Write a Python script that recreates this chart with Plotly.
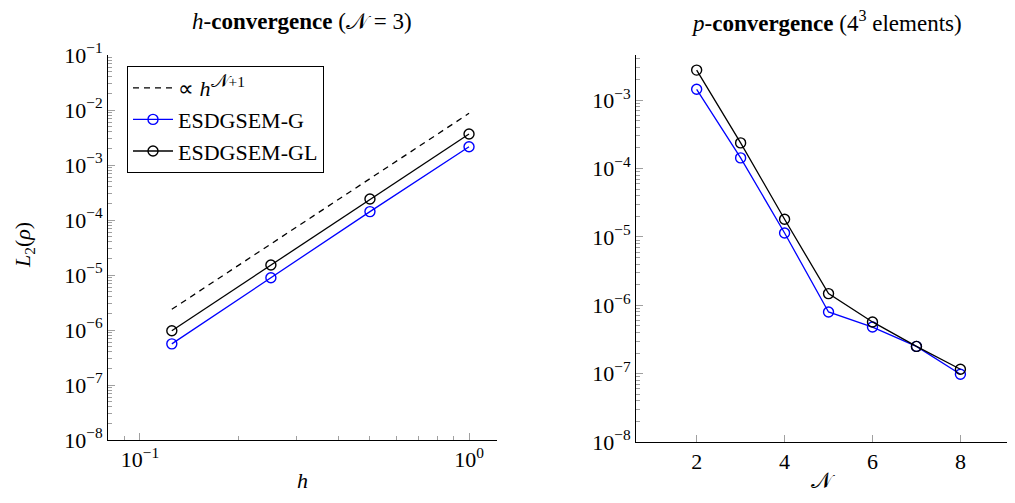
import plotly.graph_objects as go

# ---- data ----
h_vals = [0.125, 0.25, 0.5, 1.0]
h_G = [5.6e-7, 8.9e-6, 1.42e-4, 2.15e-3]
h_GL = [9.7e-7, 1.52e-5, 2.41e-4, 3.67e-3]
h_ref_x = [0.125, 1.0]
h_ref_y = [2.38e-6, 8.7e-3]

N_vals = [2, 3, 4, 5, 6, 7, 8]
p_G = [1.44e-3, 1.43e-4, 1.14e-5, 7.98e-7, 4.8e-7, 2.5e-7, 9.8e-8]
p_GL = [2.75e-3, 2.37e-4, 1.81e-5, 1.48e-6, 5.7e-7, 2.5e-7, 1.16e-7]

y_ticks = [1e-8, 1e-7, 1e-6, 1e-5, 1e-4, 1e-3, 1e-2, 1e-1]
y_ticktext = ["10<sup>\u2212%d</sup>" % k for k in [8, 7, 6, 5, 4, 3, 2, 1]]
x_ticks = [0.1, 1.0]
x_ticktext = ["10<sup>\u22121</sup>", "10<sup>0</sup>"]
n_ticks = [2, 4, 6, 8]

FONT = "Liberation Serif"
FS = 22
OFF = 8  # page body margin
W, H = 1015 - 2 * OFF, 503 - 2 * OFF
CALN = "\U0001D4A9"


def px(x):
    return min(1.0, max(0.0, (x - OFF) / W))


def py(y):
    return min(1.0, max(0.0, 1 - (y - OFF) / H))


fig = go.Figure()

BLUE = "#0000ff"
BLACK = "#000000"
mk = dict(symbol="circle-open", size=10, line=dict(width=1.4))

fig.add_trace(go.Scatter(x=h_ref_x, y=h_ref_y, mode="lines",
                         line=dict(color=BLACK, width=1.3, dash="6px,5px"),
                         name="\u221d <i>h</i><sup><span style='font-size:19px'>" + CALN + "</span>+1</sup>",
                         xaxis="x", yaxis="y"))
fig.add_trace(go.Scatter(x=h_vals, y=h_G, mode="lines+markers",
                         line=dict(color=BLUE, width=1.3),
                         marker=dict(color=BLUE, **mk),
                         name="ESDGSEM-G", xaxis="x", yaxis="y"))
fig.add_trace(go.Scatter(x=h_vals, y=h_GL, mode="lines+markers",
                         line=dict(color=BLACK, width=1.3),
                         marker=dict(color=BLACK, **mk),
                         name="ESDGSEM-GL", xaxis="x", yaxis="y"))

fig.add_trace(go.Scatter(x=N_vals, y=p_G, mode="lines+markers",
                         line=dict(color=BLUE, width=1.3),
                         marker=dict(color=BLUE, **mk),
                         showlegend=False, xaxis="x2", yaxis="y2"))
fig.add_trace(go.Scatter(x=N_vals, y=p_GL, mode="lines+markers",
                         line=dict(color=BLACK, width=1.3),
                         marker=dict(color=BLACK, **mk),
                         showlegend=False, xaxis="x2", yaxis="y2"))

TICKC = "#a0a0a0"
minor_y = [m * 10.0 ** e for e in range(-8, 0) for m in range(2, 10)]
minor_x = [m * 10.0 ** e for e in range(-2, 1) for m in range(2, 10)]

axis_common = dict(showline=True, linecolor="black", linewidth=1, mirror=False,
                   showgrid=False, zeroline=False, ticks="inside", ticklen=7,
                   tickcolor=TICKC, tickwidth=1, automargin=False,
                   tickfont=dict(family=FONT, size=FS, color="black"))

minor_common = dict(tickmode="array", ticks="inside", ticklen=4,
                    tickcolor=TICKC, showgrid=False)

fig.update_layout(
    width=W, height=H,
    margin=dict(l=0, r=0, t=0, b=0, autoexpand=False),
    paper_bgcolor="white", plot_bgcolor="white",
    font=dict(family=FONT, size=FS, color="black"),
    xaxis=dict(domain=[px(108), px(497)], type="log", range=[-1.097, 0.085],
               tickmode="array", tickvals=x_ticks, ticktext=x_ticktext,
               minor=dict(tickvals=minor_x, **minor_common),
               anchor="y", **axis_common),
    yaxis=dict(domain=[py(440), py(55)], type="log", range=[-8, -1],
               tickmode="array", tickvals=y_ticks, ticktext=y_ticktext,
               minor=dict(tickvals=minor_y, **minor_common),
               anchor="x", **axis_common),
    xaxis2=dict(domain=[px(636), px(1007)], range=[0.62, 9.06],
                tickmode="array", tickvals=n_ticks,
                anchor="y2", **axis_common),
    yaxis2=dict(domain=[py(442), py(55)], type="log", range=[-8, -2.34],
                tickmode="array", tickvals=y_ticks[:-2], ticktext=y_ticktext[:-2],
                minor=dict(tickvals=minor_y, **minor_common),
                anchor="x2", **axis_common),
    legend=dict(x=px(127), y=py(66), xanchor="left", yanchor="top",
                bgcolor="white", bordercolor="black", borderwidth=1,
                font=dict(family=FONT, size=FS), tracegroupgap=0,
                itemwidth=40),
    showlegend=True,
)

ann = [
    dict(x=px(302), y=py(21), text="<i>h</i>-<b>convergence</b> (" + CALN + " = 3)", size=23, ya="middle"),
    dict(x=px(826), y=py(21), text="<i>p</i>-<b>convergence</b> (4<sup>3</sup> elements)", size=23, ya="middle"),
    dict(x=px(302), y=0, text="<i>h</i>", size=FS, ya="bottom"),
    dict(x=px(823), y=0, text=CALN, size=FS, ya="bottom"),
    dict(x=px(24), y=py(245), text="<i>L</i><sub>2</sub>(<i>\u03c1</i>)", textangle=-90, size=FS, ya="middle"),
]
for a in ann:
    s = a.pop("size")
    ya = a.pop("ya")
    fig.add_annotation(xref="paper", yref="paper", showarrow=False,
                       xanchor="center", yanchor=ya,
                       font=dict(family=FONT, size=s, color="black"), **a)

fig.write_html("out.html")
